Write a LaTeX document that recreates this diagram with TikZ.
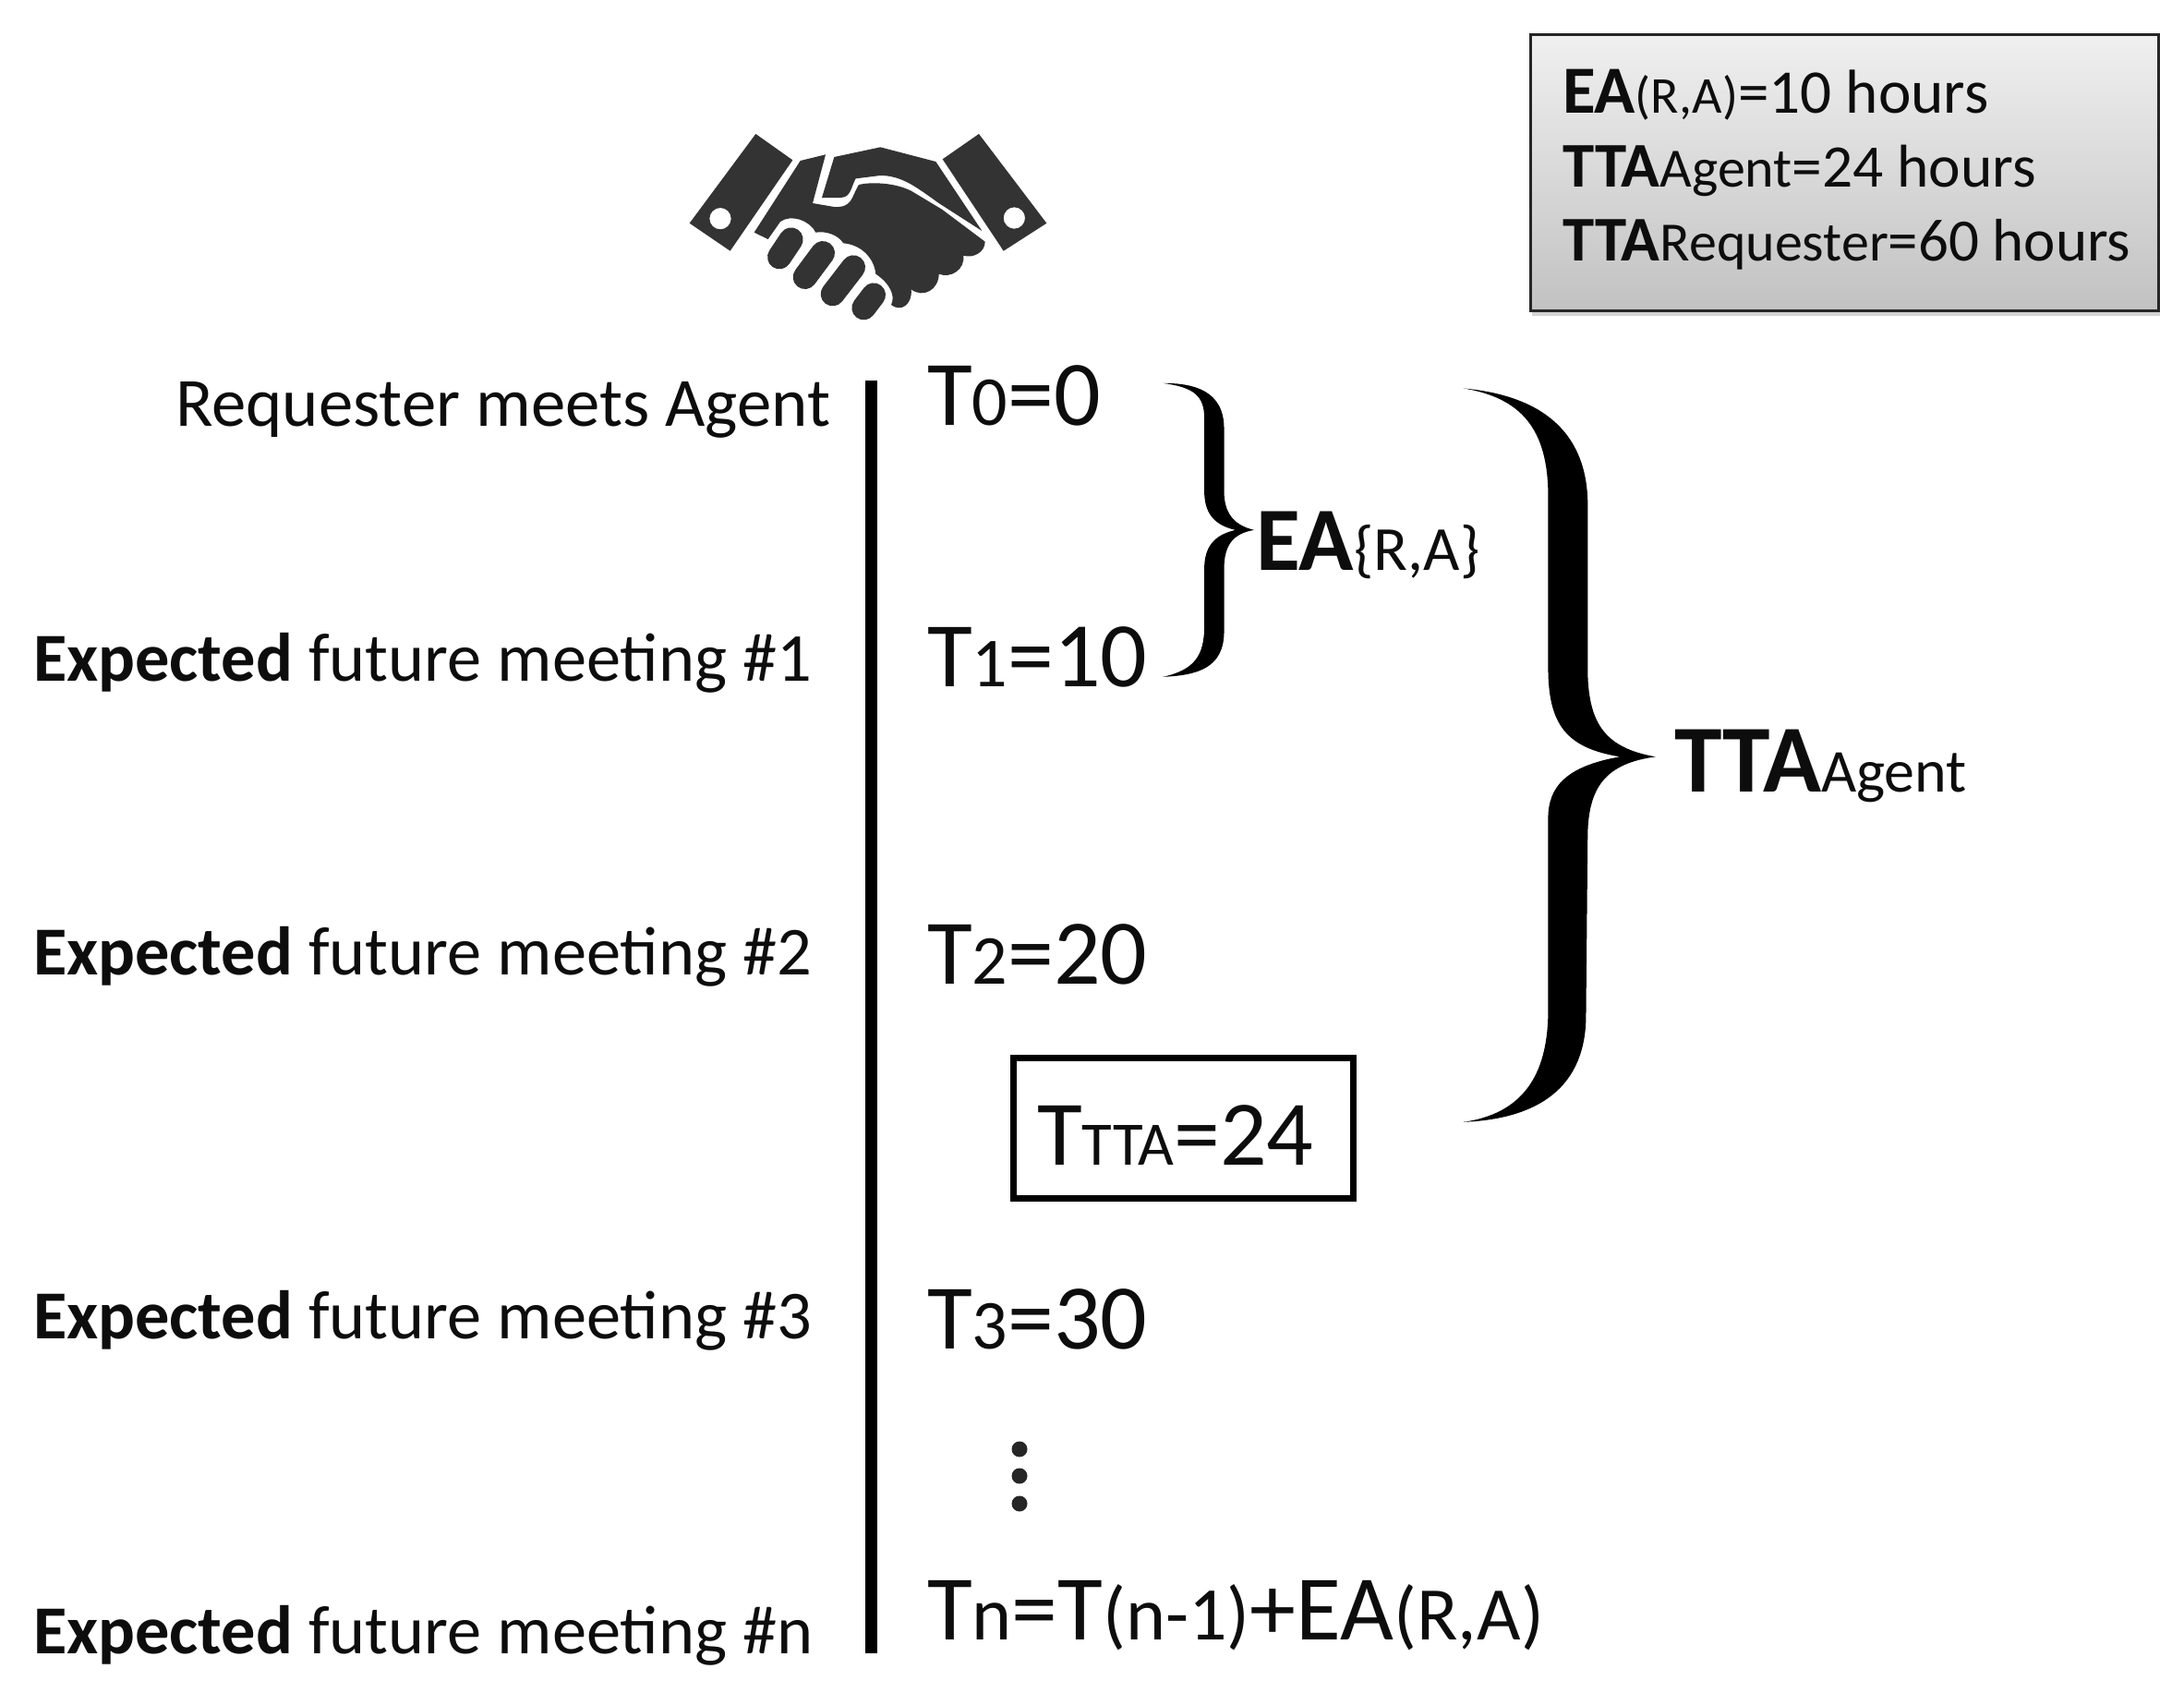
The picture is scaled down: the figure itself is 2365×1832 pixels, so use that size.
\documentclass[tikz,border=0pt]{standalone}
\usepackage{fontspec}
\setmainfont{Carlito}
\usetikzlibrary{shadows}
\newcommand{\fsz}[1]{\fontsize{#1pt}{#1pt}\selectfont}
\tikzset{
  x=0.5pt,y=-0.5pt,
  txt/.style={inner sep=0pt,outer sep=0pt,text=black!95},
  leftlbl/.style={txt,font=\fsz{37.2}},
  timelbl/.style={txt,font=\fsz{50}},
  ealbl/.style={txt,font=\fsz{49}},
  boxlbl/.style={txt,font=\fsz{33}},
  inkshape/.style={fill=black},
  handink/.style={fill=black!80,draw=none},
  finger/.style={draw=black!80,line cap=round,line width=13pt},
}
\newcommand{\tsub}[1]{{\fsz{38}#1}}
\newcommand{\tsubn}[1]{{\fsz{41}#1}}
\begin{document}
\begin{tikzpicture}
\useasboundingbox (0,0) rectangle (2365,1832);
% parameter box
\node[draw=black!85,line width=1.5pt,top color=black!6,bottom color=black!24,minimum width=340pt,minimum height=149.5pt,inner sep=0pt,anchor=north west,drop shadow={shadow xshift=0.5pt,shadow yshift=-2.5pt,opacity=.35}] (params) at (1656,36) {};
\node[boxlbl,anchor=base west] (p1) at (1692,122) {{\fsz{36.5}\textbf{EA}}{\fsz{28}(R,A)}{\fsz{33.6}=10 hours}};
\node[boxlbl,anchor=base west] (p2) at (1692,202) {{\fsz{34.5}\textbf{TTA}}{\fsz{30}Agent}{\fsz{32.7}=24 hours}};
\node[boxlbl,anchor=base west] (p3) at (1692,282) {{\fsz{34.5}\textbf{TTA}}{\fsz{30}Requester}{\fsz{32.5}=60 hours}};
% handshake
\begin{scope}[shift={(700,110)},x=0.16667pt,y=-0.16667pt]
\fill[handink,even odd rule] (355,105)--(475,190)--(272,485)--(140,395)--cycle (240,380) circle[radius=35];
\fill[handink,even odd rule] (1080,105)--(962,187)--(1160,485)--(1300,395)--cycle (1195,378) circle[radius=35];
\fill[handink] (350,425)--(500,192)--(582,172)--(540,330)--(610,342)
  .. controls (670,345) and (665,310) .. (690,270)
  .. controls (720,262) and (800,260) .. (860,290)
  -- (960,350) -- (1100,455)
  .. controls (1100,490) and (1060,510) .. (1030,500)
  .. controls (1035,545) and (990,575) .. (950,560)
  .. controls (950,610) and (900,640) .. (860,610)
  .. controls (865,660) and (825,685) .. (795,660)
  .. controls (810,630) and (790,590) .. (745,560)
  .. controls (740,510) and (700,465) .. (640,460)
  .. controls (620,430) and (580,420) .. (550,425)
  .. controls (530,385) and (470,365) .. (435,390)
  -- (395,447) -- cycle;
\fill[handink] (610,180)--(760,148)--(940,195)--(1090,420)--(950,330)
  .. controls (880,280) and (830,240) .. (760,240)
  -- (680,250) .. controls (665,275) and (665,312) .. (630,312)
  -- (570,312) -- cycle;
\draw[finger] (470,448)--(432,505);
\draw[finger] (573,492)--(515,570);
\draw[finger] (672,538)--(605,625);
\draw[finger] (738,628)--(706,670);
\end{scope}
% timeline
\coordinate (tlTop) at (943,412);
\coordinate (tlBot) at (943,1790);
\draw[line width=6.5pt,black] (tlTop)--(tlBot);
% left labels
\node[leftlbl,anchor=base east,font=\fsz{37.4}] (m0) at (899,461) {Requester meets Agent};
\node[leftlbl,anchor=base west] (m1) at (36,737) {\textbf{Expected} future meeting \#1};
\node[leftlbl,anchor=base west] (m2) at (36,1055) {\textbf{Expected} future meeting \#2};
\node[leftlbl,anchor=base west] (m3) at (36,1449) {\textbf{Expected} future meeting \#3};
\node[leftlbl,anchor=base west] (mn) at (36,1790) {\textbf{Expected} future meeting \#n};
% time labels
\node[timelbl,anchor=base west] (t0) at (1004,460) {T\tsub{0}=0};
\node[timelbl,anchor=base west] (t1) at (1004,743) {T\tsub{1}=10};
\node[timelbl,anchor=base west] (t2) at (1004,1065) {T\tsub{2}=20};
\node[timelbl,anchor=base west] (t3) at (1004,1460) {T\tsub{3}=30};
\node[timelbl,anchor=base west] (tn) at (1004,1775) {T\tsubn{n}=T\tsubn{(n-1)}+EA\tsubn{(R,A)}};
\node[timelbl,anchor=base west] (ttta) at (1123,1261) {T{\fsz{33.5}TTA}=24};
\node[draw=black,line width=3.5pt,minimum width=184pt,minimum height=76pt,inner sep=0pt,anchor=north west] (tbox) at (1094,1142) {};
% dots
\fill[black!85] (1104,1569) circle[radius=8.5] (1104,1598) circle[radius=8.5] (1104,1628) circle[radius=8.5];
% braces
\begin{scope}[shift={(1200,380)},x=0.30618pt,y=-0.28090pt]
\fill[inkshape] (97,62) .. controls (150,62) and (205,75) .. (205,150)
  -- (205,270) .. controls (205,310) and (220,335) .. (258,345)
  .. controls (220,352) and (205,375) .. (205,420)
  -- (205,540) .. controls (205,610) and (160,625) .. (97,628)
  .. controls (150,615) and (170,590) .. (170,530)
  -- (170,420) .. controls (170,380) and (185,355) .. (225,345)
  .. controls (185,335) and (170,310) .. (170,270)
  -- (170,130) .. controls (170,85) and (150,70) .. (97,62) -- cycle;
\fill[inkshape] (628,72) .. controls (760,85) and (845,150) .. (848,290)
  -- (848,620) .. controls (850,720) and (880,765) .. (968,782)
  .. controls (880,795) and (850,840) .. (848,930)
  -- (845,1280) .. controls (845,1420) and (760,1480) .. (628,1486)
  .. controls (730,1470) and (778,1400) .. (778,1270)
  -- (778,900) .. controls (778,840) and (810,800) .. (905,782)
  .. controls (810,765) and (778,720) .. (778,610)
  -- (778,280) .. controls (778,150) and (730,90) .. (628,72) -- cycle;
\end{scope}
\node[ealbl,anchor=base west] (ea) at (1360,617) {\textbf{EA}{\fsz{34}\{R,A\}}};
\node[ealbl,anchor=base west] (tta) at (1813,857) {{\fsz{52}\textbf{TTA}}{\fsz{33}Agent}};
\end{tikzpicture}
\end{document}
